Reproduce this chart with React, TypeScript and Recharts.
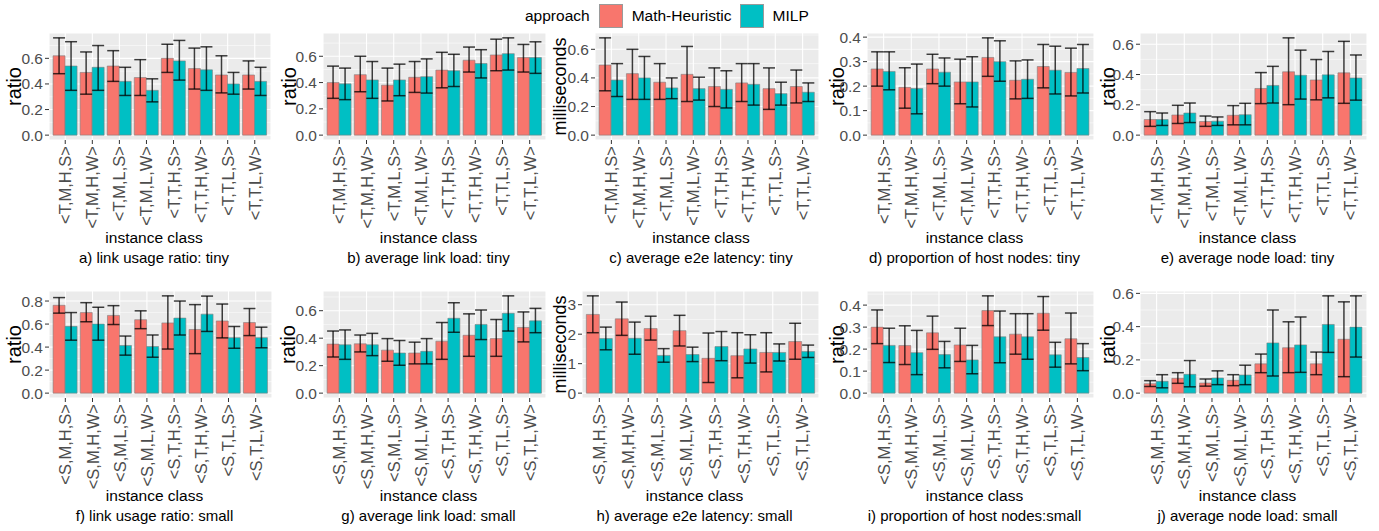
import React from "react";
import { BarChart, Bar, XAxis, YAxis, CartesianGrid, ErrorBar } from "recharts";

const MH_COLOR = "#F8766D";
const MILP_COLOR = "#00BFC4";

const tinyClasses = ["<T,M,H,S>", "<T,M,H,W>", "<T,M,L,S>", "<T,M,L,W>", "<T,T,H,S>", "<T,T,H,W>", "<T,T,L,S>", "<T,T,L,W>"];
const smallClasses = ["<S,M,H,S>", "<S,M,H,W>", "<S,M,L,S>", "<S,M,L,W>", "<S,T,H,S>", "<S,T,H,W>", "<S,T,L,S>", "<S,T,L,W>"];

// a) link usage ratio: tiny
const aMH = [0.62, 0.49, 0.54, 0.45, 0.6, 0.52, 0.47, 0.47];
const aMHLo = [0.48, 0.32, 0.42, 0.31, 0.49, 0.36, 0.33, 0.36];
const aMHHi = [0.76, 0.65, 0.66, 0.59, 0.71, 0.68, 0.62, 0.58];
const aMILP = [0.54, 0.53, 0.42, 0.35, 0.58, 0.51, 0.4, 0.42];
const aMILPLo = [0.35, 0.35, 0.31, 0.26, 0.43, 0.35, 0.32, 0.31];
const aMILPHi = [0.73, 0.7, 0.53, 0.44, 0.74, 0.69, 0.49, 0.53];

// b) average link load: tiny
const bMH = [0.4, 0.46, 0.38, 0.44, 0.495, 0.57, 0.61, 0.59];
const bMHLo = [0.28, 0.33, 0.26, 0.325, 0.36, 0.48, 0.49, 0.48];
const bMHHi = [0.525, 0.6, 0.51, 0.56, 0.63, 0.67, 0.73, 0.69];
const bMILP = [0.39, 0.42, 0.42, 0.445, 0.49, 0.545, 0.62, 0.59];
const bMILPLo = [0.27, 0.28, 0.3, 0.32, 0.37, 0.435, 0.495, 0.47];
const bMILPHi = [0.51, 0.56, 0.54, 0.58, 0.615, 0.65, 0.74, 0.71];

// c) average e2e latency: tiny
const cMH = [0.49, 0.43, 0.37, 0.425, 0.34, 0.365, 0.325, 0.34];
const cMHLo = [0.31, 0.25, 0.25, 0.235, 0.2, 0.235, 0.18, 0.225];
const cMHHi = [0.68, 0.6, 0.5, 0.62, 0.47, 0.5, 0.47, 0.455];
const cMILP = [0.385, 0.4, 0.33, 0.325, 0.32, 0.355, 0.29, 0.3];
const cMILPLo = [0.27, 0.25, 0.255, 0.245, 0.19, 0.21, 0.21, 0.235];
const cMILPHi = [0.5, 0.55, 0.4, 0.405, 0.45, 0.5, 0.37, 0.365];

// d) proportion of host nodes: tiny
const dMH = [0.27, 0.195, 0.27, 0.217, 0.317, 0.224, 0.28, 0.256];
const dMHLo = [0.2, 0.11, 0.21, 0.128, 0.24, 0.148, 0.193, 0.16];
const dMHHi = [0.34, 0.275, 0.33, 0.31, 0.397, 0.303, 0.37, 0.355];
const dMILP = [0.26, 0.19, 0.257, 0.217, 0.3, 0.228, 0.265, 0.272];
const dMILPLo = [0.185, 0.087, 0.2, 0.115, 0.22, 0.15, 0.168, 0.172];
const dMILPHi = [0.34, 0.29, 0.315, 0.32, 0.385, 0.307, 0.363, 0.37];

// e) average node load: tiny
const eMH = [0.103, 0.133, 0.09, 0.131, 0.308, 0.418, 0.364, 0.411];
const eMHLo = [0.058, 0.077, 0.058, 0.068, 0.208, 0.201, 0.233, 0.21];
const eMHHi = [0.155, 0.197, 0.126, 0.195, 0.413, 0.642, 0.499, 0.619];
const eMILP = [0.103, 0.146, 0.092, 0.135, 0.328, 0.396, 0.398, 0.377];
const eMILPLo = [0.064, 0.083, 0.064, 0.068, 0.212, 0.238, 0.246, 0.231];
const eMILPHi = [0.146, 0.212, 0.12, 0.21, 0.454, 0.561, 0.552, 0.529];

// f) link usage ratio: small
const fMH = [0.763, 0.7, 0.675, 0.638, 0.61, 0.553, 0.627, 0.613];
const fMHLo = [0.695, 0.62, 0.596, 0.56, 0.383, 0.343, 0.48, 0.5];
const fMHHi = [0.83, 0.786, 0.76, 0.715, 0.845, 0.769, 0.774, 0.735];
const fMILP = [0.58, 0.6, 0.414, 0.405, 0.652, 0.686, 0.482, 0.482];
const fMILPLo = [0.46, 0.46, 0.33, 0.312, 0.505, 0.536, 0.39, 0.394];
const fMILPHi = [0.7, 0.746, 0.496, 0.505, 0.8, 0.843, 0.579, 0.573];

// g) average link load: small
const gMH = [0.357, 0.359, 0.313, 0.292, 0.378, 0.421, 0.397, 0.478];
const gMHLo = [0.263, 0.3, 0.232, 0.213, 0.246, 0.268, 0.268, 0.373];
const gMHHi = [0.452, 0.423, 0.397, 0.371, 0.514, 0.577, 0.536, 0.591];
const gMILP = [0.352, 0.352, 0.292, 0.304, 0.545, 0.5, 0.581, 0.526];
const gMILPLo = [0.246, 0.273, 0.203, 0.213, 0.443, 0.39, 0.452, 0.44];
const gMILPHi = [0.46, 0.435, 0.383, 0.397, 0.658, 0.605, 0.708, 0.617];

// h) average e2e latency: small
const hMH = [2.67, 2.52, 2.19, 2.12, 1.18, 1.27, 1.38, 1.75];
const hMHLo = [2.05, 1.96, 1.8, 1.6, 0.36, 0.52, 0.72, 1.15];
const hMHHi = [3.3, 3.09, 2.61, 2.64, 2.04, 2.05, 2.05, 2.37];
const hMILP = [1.85, 1.86, 1.28, 1.31, 1.58, 1.5, 1.38, 1.41];
const hMILPLo = [1.47, 1.32, 1.05, 1.07, 1.1, 1.02, 1.09, 1.21];
const hMILPHi = [2.24, 2.41, 1.51, 1.56, 2.09, 1.98, 1.67, 1.63];

// i) proportion of host nodes: small
const iMH = [0.3, 0.216, 0.274, 0.219, 0.375, 0.268, 0.363, 0.247];
const iMHLo = [0.225, 0.13, 0.199, 0.144, 0.307, 0.177, 0.286, 0.133];
const iMHHi = [0.378, 0.306, 0.35, 0.295, 0.442, 0.361, 0.439, 0.364];
const iMILP = [0.217, 0.184, 0.175, 0.151, 0.256, 0.256, 0.174, 0.162];
const iMILPLo = [0.139, 0.084, 0.115, 0.088, 0.138, 0.154, 0.118, 0.102];
const iMILPHi = [0.295, 0.285, 0.235, 0.217, 0.373, 0.361, 0.231, 0.225];

// j) average node load: small
const jMH = [0.057, 0.089, 0.061, 0.077, 0.176, 0.273, 0.176, 0.324];
const jMHLo = [0.04, 0.059, 0.042, 0.045, 0.123, 0.123, 0.111, 0.099];
const jMHHi = [0.075, 0.123, 0.085, 0.111, 0.235, 0.429, 0.247, 0.549];
const jMILP = [0.071, 0.113, 0.091, 0.109, 0.302, 0.29, 0.413, 0.397];
const jMILPLo = [0.032, 0.038, 0.051, 0.051, 0.103, 0.125, 0.245, 0.217];
const jMILPHi = [0.111, 0.196, 0.134, 0.168, 0.5, 0.458, 0.585, 0.585];

const ticks01 = [0, 0.1, 0.2, 0.3, 0.4];
const ticks02 = [0, 0.2, 0.4, 0.6];
const ticks02b = [0, 0.2, 0.4, 0.6, 0.8];
const ticksMs = [0, 1, 2, 3];

type Series = { mean: number[]; lo: number[]; hi: number[] };
type PanelSpec = {
  title: string;
  yLabel: string;
  classes: string[];
  ticks: number[];
  integer?: boolean;
  mh: Series;
  milp: Series;
};

const panels: PanelSpec[] = [
  { title: "a) link usage ratio: tiny", yLabel: "ratio", classes: tinyClasses, ticks: ticks02,
    mh: { mean: aMH, lo: aMHLo, hi: aMHHi }, milp: { mean: aMILP, lo: aMILPLo, hi: aMILPHi } },
  { title: "b) average link load: tiny", yLabel: "ratio", classes: tinyClasses, ticks: ticks02,
    mh: { mean: bMH, lo: bMHLo, hi: bMHHi }, milp: { mean: bMILP, lo: bMILPLo, hi: bMILPHi } },
  { title: "c) average e2e latency: tiny", yLabel: "milliseconds", classes: tinyClasses, ticks: ticks02,
    mh: { mean: cMH, lo: cMHLo, hi: cMHHi }, milp: { mean: cMILP, lo: cMILPLo, hi: cMILPHi } },
  { title: "d) proportion of host nodes: tiny", yLabel: "ratio", classes: tinyClasses, ticks: ticks01,
    mh: { mean: dMH, lo: dMHLo, hi: dMHHi }, milp: { mean: dMILP, lo: dMILPLo, hi: dMILPHi } },
  { title: "e) average node load: tiny", yLabel: "ratio", classes: tinyClasses, ticks: ticks02,
    mh: { mean: eMH, lo: eMHLo, hi: eMHHi }, milp: { mean: eMILP, lo: eMILPLo, hi: eMILPHi } },
  { title: "f) link usage ratio: small", yLabel: "ratio", classes: smallClasses, ticks: ticks02b,
    mh: { mean: fMH, lo: fMHLo, hi: fMHHi }, milp: { mean: fMILP, lo: fMILPLo, hi: fMILPHi } },
  { title: "g) average link load: small", yLabel: "ratio", classes: smallClasses, ticks: ticks02,
    mh: { mean: gMH, lo: gMHLo, hi: gMHHi }, milp: { mean: gMILP, lo: gMILPLo, hi: gMILPHi } },
  { title: "h) average e2e latency: small", yLabel: "milliseconds", classes: smallClasses, ticks: ticksMs, integer: true,
    mh: { mean: hMH, lo: hMHLo, hi: hMHHi }, milp: { mean: hMILP, lo: hMILPLo, hi: hMILPHi } },
  { title: "i) proportion of host nodes:small", yLabel: "ratio", classes: smallClasses, ticks: ticks01,
    mh: { mean: iMH, lo: iMHLo, hi: iMHHi }, milp: { mean: iMILP, lo: iMILPLo, hi: iMILPHi } },
  { title: "j) average node load: small", yLabel: "ratio", classes: smallClasses, ticks: ticks02,
    mh: { mean: jMH, lo: jMHLo, hi: jMHHi }, milp: { mean: jMILP, lo: jMILPLo, hi: jMILPHi } },
];

// page positions of each panel: panel left, plot left/right, y-label centre
const boxes = [
  { x0: 0, left: 49, right: 271, labelX: 14 },
  { x0: 275, left: 323, right: 546, labelX: 289 },
  { x0: 550, left: 595, right: 819, labelX: 560 },
  { x0: 825, left: 867, right: 1094, labelX: 837 },
  { x0: 1100, left: 1140, right: 1367, labelX: 1108 },
  { x0: 0, left: 49, right: 272, labelX: 14 },
  { x0: 275, left: 323, right: 546, labelX: 288 },
  { x0: 550, left: 582, right: 819, labelX: 560 },
  { x0: 825, left: 867, right: 1094, labelX: 837 },
  { x0: 1100, left: 1140, right: 1367, labelX: 1108 },
];

const ROW_TOP = [33, 291];
const PLOT_H = 107;
const XAXIS_H = 95;
const PAD_TOP = 10;
const PAD_LEFT = 10;
const FONT = '"Liberation Sans", Arial, sans-serif';

const RotTick = (props: any) => {
  const { x, y, payload } = props;
  return (
    <text
      x={x}
      y={y}
      transform={`rotate(-90, ${x}, ${y})`}
      textAnchor="end"
      dominantBaseline="central"
      fontSize={16.5}
      fill="#4D4D4D"
    >
      {payload.value}
    </text>
  );
};

function Panel({ spec, box, top }: { spec: PanelSpec; box: any; top: number }) {
  const data = spec.classes.map((c, i) => ({
    name: c,
    mh: spec.mh.mean[i],
    mhErr: [spec.mh.mean[i] - spec.mh.lo[i], spec.mh.hi[i] - spec.mh.mean[i]],
    milp: spec.milp.mean[i],
    milpErr: [spec.milp.mean[i] - spec.milp.lo[i], spec.milp.hi[i] - spec.milp.mean[i]],
  }));
  const maxV = Math.max(...spec.mh.hi, ...spec.milp.hi);
  const domain = [-0.05 * maxV, maxV * 1.05];
  const step = spec.ticks[1] - spec.ticks[0];
  const minor = spec.ticks.map((t) => t + step / 2).filter((v) => v < domain[1]);
  const plotW = box.right - box.left;
  const pad = (plotW * 0.1) / 8.2;
  const chartLeft = box.x0 - PAD_LEFT;
  const yW = box.left - chartLeft;
  const width = box.right - chartLeft + 2;
  const cx = box.labelX - chartLeft;
  const labelSize = spec.yLabel === "ratio" ? 20 : 18;

  return (
    <>
      <div style={{ position: "absolute", left: chartLeft, top: top - PAD_TOP }}>
        <BarChart
          width={width}
          height={PAD_TOP + PLOT_H + XAXIS_H}
          data={data}
          margin={{ top: PAD_TOP, right: 2, left: 0, bottom: 0 }}
          barCategoryGap="5%"
          barGap={0}
        >
          <CartesianGrid fill="#EBEBEB" stroke="#FFFFFF" strokeWidth={1.1} />
          <CartesianGrid stroke="#FFFFFF" strokeWidth={0.5} vertical={false} horizontalValues={minor} />
          <XAxis
            dataKey="name"
            interval={0}
            height={XAXIS_H}
            padding={{ left: pad, right: pad }}
            tickSize={4}
            tickLine={{ stroke: "#333333" }}
            axisLine={false}
            tick={<RotTick />}
          />
          <YAxis
            type="number"
            width={yW}
            domain={domain}
            ticks={spec.ticks}
            interval={0}
            allowDataOverflow
            tickSize={4}
            tickLine={{ stroke: "#333333" }}
            axisLine={false}
            tick={{ fontSize: 15.5, fill: "#4D4D4D" }}
            tickFormatter={(v: number) => (spec.integer ? String(v) : v.toFixed(1))}
            label={{
              content: (p: any) => {
                const vb = p.viewBox;
                const cy = vb.y + vb.height / 2;
                return (
                  <text
                    x={cx}
                    y={cy}
                    transform={`rotate(-90, ${cx}, ${cy})`}
                    textAnchor="middle"
                    dominantBaseline="central"
                    fontSize={labelSize}
                    fill="#000000"
                  >
                    {spec.yLabel}
                  </text>
                );
              },
            }}
          />
          <Bar dataKey="mh" fill={MH_COLOR} stroke="#7F7F7F" strokeOpacity={0.6} isAnimationActive={false}>
            <ErrorBar dataKey="mhErr" width={6} stroke="#000000" strokeWidth={1.5} strokeOpacity={0.75} direction="y" />
          </Bar>
          <Bar dataKey="milp" fill={MILP_COLOR} stroke="#7F7F7F" strokeOpacity={0.6} isAnimationActive={false}>
            <ErrorBar dataKey="milpErr" width={6} stroke="#000000" strokeWidth={1.5} strokeOpacity={0.75} direction="y" />
          </Bar>
        </BarChart>
      </div>
      <div
        style={{
          position: "absolute",
          left: box.left - 6,
          width: plotW,
          top: top + 196,
          textAlign: "center",
          fontSize: 15.5,
          lineHeight: "18px",
        }}
      >
        instance class
      </div>
      <div
        style={{
          position: "absolute",
          left: box.left - 46,
          width: plotW + 80,
          top: top + 216,
          textAlign: "center",
          fontSize: 15,
          lineHeight: "18px",
        }}
      >
        {spec.title}
      </div>
    </>
  );
}

export default function App() {
  return (
    <div
      style={{
        position: "absolute",
        left: 0,
        top: 0,
        width: 1379,
        height: 531,
        overflow: "hidden",
        background: "#FFFFFF",
        fontFamily: FONT,
        color: "#000000",
      }}
    >
      {/* legend */}
      <div style={{ position: "absolute", left: 525, top: 3, height: 25, display: "flex", alignItems: "center", fontSize: 15.5 }}>
        <span style={{ marginRight: 9 }}>approach</span>
        <span style={{ width: 24, height: 24, background: MH_COLOR, border: "1px solid #9a9a9a", boxSizing: "border-box" }} />
        <span style={{ marginLeft: 9, marginRight: 8 }}>Math-Heuristic</span>
        <span style={{ width: 24, height: 24, background: MILP_COLOR, border: "1px solid #9a9a9a", boxSizing: "border-box" }} />
        <span style={{ marginLeft: 9 }}>MILP</span>
      </div>
      {panels.map((p, i) => (
        <Panel key={i} spec={p} box={boxes[i]} top={ROW_TOP[i < 5 ? 0 : 1]} />
      ))}
    </div>
  );
}
